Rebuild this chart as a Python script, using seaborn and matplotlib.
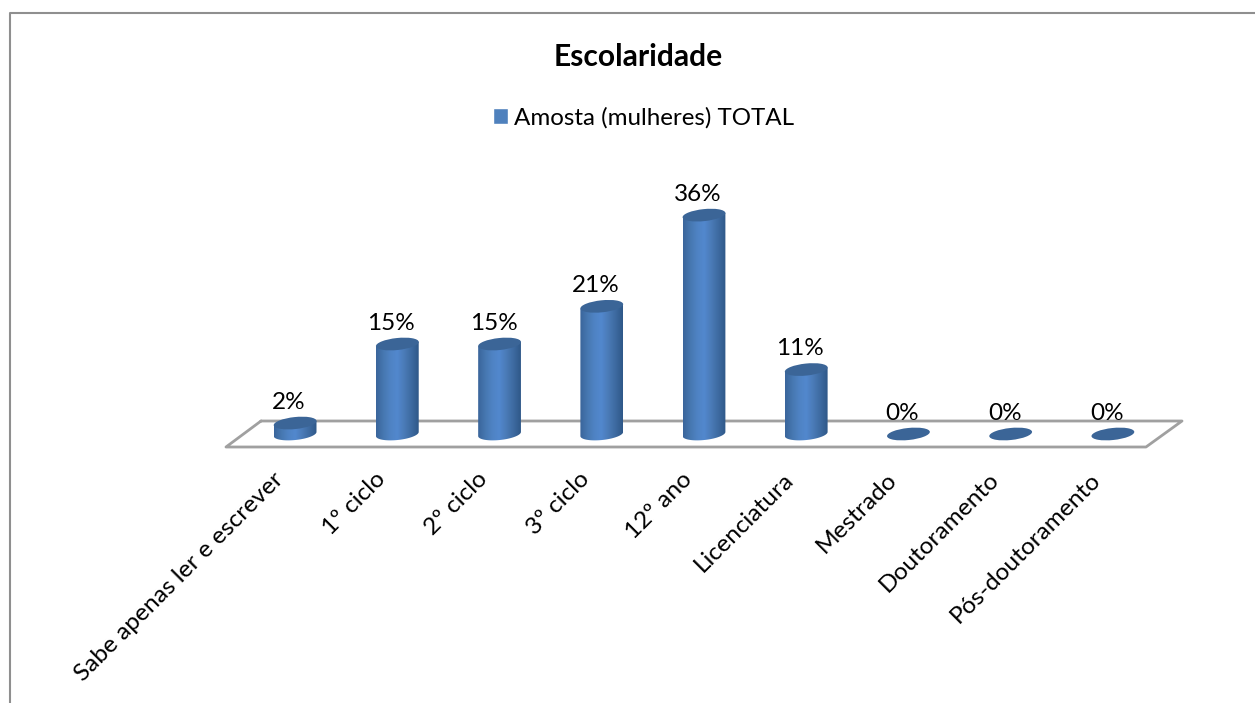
import numpy as np
import matplotlib
matplotlib.use('Agg')
import matplotlib.pyplot as plt
import seaborn as sns
from matplotlib.lines import Line2D
from matplotlib.patches import Ellipse, Patch, PathPatch
from matplotlib.path import Path
from matplotlib.transforms import IdentityTransform, ScaledTranslation

categories = ['Sabe apenas ler e escrever', '1º ciclo', '2º ciclo', '3º ciclo', '12º ano',
              'Licenciatura', 'Mestrado', 'Doutoramento', 'Pós-doutoramento']
values = [1.8, 14.8, 14.8, 21.0, 36.0, 10.6, 0, 0, 0]
series_name = 'Amosta (mulheres) TOTAL'
chart_title = 'Escolaridade'

W, H = 1255, 703
sns.set_theme(style='white')
plt.rcParams['font.family'] = ['Lato', 'DejaVu Sans']


def px_x(x):
    return x / W


def px_y(y):
    return 1 - y / H


fig = plt.figure(figsize=(W / 100, H / 100), dpi=100)
# axes bottom sits on value 0 of the bars, 6.08 px per percent
ax = fig.add_axes([px_x(244), px_y(434), 920 / W, 284 / H])
ax.patch.set_alpha(0)

sns.barplot(x=categories, y=values, color='#4f81bd', saturation=1, width=0.41, ax=ax)
ax.set_xlim(-0.5, 8.5)
ax.set_ylim(0, 284 / 6.08)
sns.despine(ax=ax, left=True, bottom=True)
ax.set_yticks([])
ax.set_xticks(range(len(categories)))
ax.set_xticklabels(categories, rotation=45, ha='right', rotation_mode='anchor', fontsize=17.6, color='black')
ax.tick_params(axis='x', length=0, pad=25)
# labels end a bit left of the bar centre
shift = ScaledTranslation(-23 / 100, 0, fig.dpi_scale_trans)
for lab in ax.get_xticklabels():
    lab.set_transform(lab.get_transform() + shift)

# chart frame and the flat floor, in figure pixels
for xs, ys, col, lw in [
    ([9.5, 9.5, 1255], [703, 13, 13], '#8f8f8f', 1.5),
    ([261, 1182, 1146, 226, 261], [421, 421, 447, 447, 421], '#a0a0a0', 2),
]:
    fig.add_artist(Line2D([px_x(x) for x in xs], [px_y(y) for y in ys], color=col, lw=lw, zorder=0))

# left-right shading of a cylinder
shade = matplotlib.colors.LinearSegmentedColormap.from_list(
    'cyl', ['#3a659b', '#4677b0', '#4f83c4', '#5288ce', '#4a7ab6', '#3d6aa0', '#2f5888'])
grad = np.linspace(0, 1, 128).reshape(1, -1)

ew, eh, tilt = 43, 12, 6
t_low = np.linspace(np.pi, 2 * np.pi, 40)

for bar, val in zip(ax.patches, values):
    cx = bar.get_x() + bar.get_width() / 2
    x0, y0 = ax.transData.transform((cx, 0))
    x1, y1 = ax.transData.transform((cx, val))
    a = np.deg2rad(tilt)
    bar.set_visible(False)
    if val > 0:
        # outline: lower half of the base ellipse, then up to the top
        ex = ew / 2 * np.cos(t_low)
        ey = eh / 2 * np.sin(t_low)
        px = x0 + ex * np.cos(a) - ey * np.sin(a)
        py = y0 + ex * np.sin(a) + ey * np.cos(a)
        dx, dy = ew / 2 * np.cos(a), ew / 2 * np.sin(a)
        verts = list(zip(px, py)) + [(x1 + dx, y1 + dy), (x1 - dx, y1 - dy), (px[0], py[0])]
        outline = Path(verts, closed=True)
        (xa, _), (xb, _) = ax.transData.inverted().transform([(x0 - ew / 2, 0), (x0 + ew / 2, 0)])
        im = ax.imshow(grad, extent=[xa, xb, -3, val + 3], aspect='auto', cmap=shade, zorder=3,
                       interpolation='bilinear')
        im.set_clip_box(fig.bbox)
        im.set_clip_path(PathPatch(outline, transform=IdentityTransform()))
    ax.add_patch(Ellipse((x1, y1), ew, eh, angle=tilt, transform=IdentityTransform(),
                         facecolor='#3b6597', edgecolor='none', zorder=4, clip_on=False))
    ax.annotate(f'{val:.0f}%', (cx, val), xytext=(-6, 21), textcoords='offset pixels', ha='center',
                va='center', fontsize=17.5, color='black', zorder=5)

ax.set_xlim(-0.5, 8.5)
ax.set_ylim(0, 284 / 6.08)

fig.text(px_x(638), px_y(57.5), chart_title, ha='center', va='center', fontsize=21.6, fontweight='bold', color='black')
fig.legend(handles=[Patch(facecolor='#4f81bd', label=series_name)], loc='center',
           bbox_to_anchor=(px_x(644), px_y(117.5)), frameon=False, fontsize=17.4, handlelength=0.62,
           handleheight=0.62, handletextpad=0.25, labelcolor='black')

fig.savefig('out.png', dpi=100, facecolor='white')
